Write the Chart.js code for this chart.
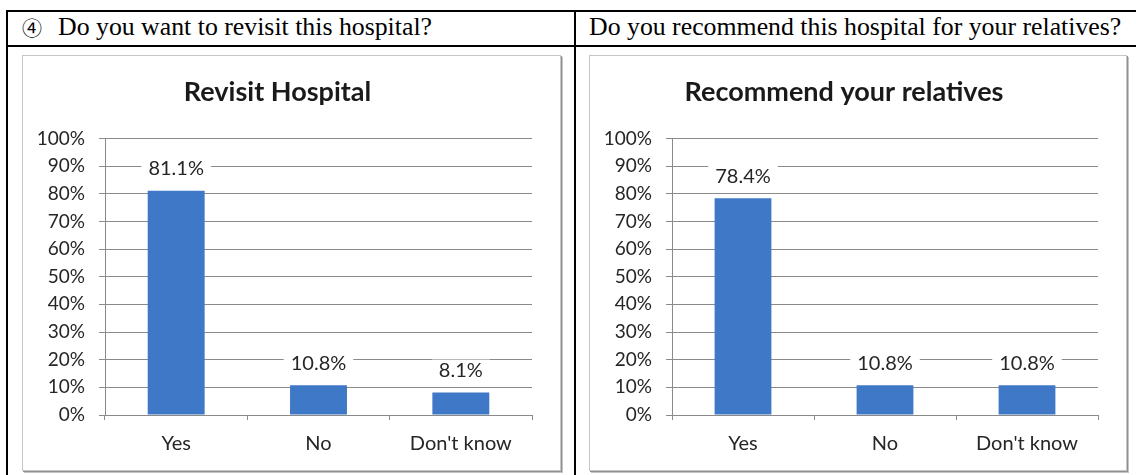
<!DOCTYPE html>
<html>
<head>
<meta charset="utf-8">
<script src="https://cdn.jsdelivr.net/npm/chart.js@4.4.0/dist/chart.umd.min.js"></script>
<style>
body { margin:0; width:1136px; height:475px; overflow:hidden; background:#fff; position:relative; font-family:"Liberation Serif", serif; }
.line { position:absolute; background:#000; }
.head { position:absolute; top:12px; font-size:25.8px; line-height:30px; color:#000; white-space:nowrap; }
.mark { position:absolute; top:13px; font-family:"Noto Sans CJK JP", sans-serif; font-size:20px; line-height:30px; color:#000; }
.box { position:absolute; top:55px; height:414px; border:1px solid #c6c6c6; box-shadow:1px 1px 0 #909090, 2px 2px 0 #c4c4c4; background:#fff; }
.box canvas { position:absolute; left:0; top:0; }
</style>
</head>
<body>
<div class="line" style="left:6px; top:10px; width:1130px; height:2px"></div>
<div class="line" style="left:6px; top:45px; width:1130px; height:2px"></div>
<div class="line" style="left:6px; top:10px; width:2px; height:465px"></div>
<div class="line" style="left:574px; top:10px; width:2px; height:465px"></div>
<div class="mark" style="left:22px">④</div>
<div class="head" style="left:58px">Do you want to revisit this hospital?</div>
<div class="head" style="left:589px">Do you recommend this hospital for your relatives?</div>
<div class="box" style="left:22px; width:537px"><canvas id="revisitChart" width="537" height="414"></canvas></div>
<div class="box" style="left:589px; width:536px"><canvas id="recommendChart" width="536" height="414"></canvas></div>

<script>
// answers shared by both questions
const categories = ['Yes', 'No', "Don't know"];
const revisitValues = [81.1, 10.8, 8.1];
const recommendValues = [78.4, 10.8, 10.8];
const percentMax = 100;
const percentStep = 10;

const barColor = '#3f78c6';
const lineColor = '#8a8a8a';
const textColor = '#262626';

// value labels above the bars, on a white patch so the gridline breaks behind them
const barLabels = {
    id: 'barLabels',
    afterDatasetsDraw(chart) {
        let ctx = chart.ctx;
        let meta = chart.getDatasetMeta(0);
        let values = chart.data.datasets[0].data;
        ctx.save();
        ctx.font = '20px Lato';
        ctx.textAlign = 'center';
        ctx.textBaseline = 'middle';
        meta.data.forEach((bar, i) => {
            let text = values[i].toFixed(1) + '%';
            let w = ctx.measureText(text).width + 14;
            let y = bar.y - 22;
            ctx.fillStyle = '#fff';
            ctx.fillRect(bar.x - w / 2, y - 11, w, 22);
            ctx.fillStyle = textColor;
            ctx.fillText(text, bar.x, y);
        });
        ctx.restore();
    }
};

function CreateChart(id, title, values) {
    let ctx = document.getElementById(id).getContext('2d');
    return new Chart(ctx, {
        type: 'bar',
        data: {
            labels: categories,
            datasets: [{
                data: values,
                backgroundColor: barColor,
                borderWidth: 0,
                categoryPercentage: 1,
                barPercentage: 0.4
            }]
        },
        plugins: [barLabels],
        options: {
            responsive: false,
            animation: false,
            layout: { padding: { left: 0, right: 28, top: 0, bottom: 0 } },
            plugins: {
                legend: { display: false },
                tooltip: { enabled: false },
                title: {
                    display: true,
                    text: title,
                    color: '#1a1a1a',
                    font: { family: 'Lato', size: 27, weight: 'bold' },
                    padding: { top: 20, bottom: 30 }
                }
            },
            scales: {
                x: {
                    grid: { offset: true, drawOnChartArea: false, tickLength: 5, color: lineColor },
                    border: { color: lineColor },
                    ticks: { color: textColor, font: { family: 'Lato', size: 20 }, padding: 12 },
                    afterFit: s => { s.height = 55; }
                },
                y: {
                    min: 0,
                    max: percentMax,
                    ticks: {
                        stepSize: percentStep,
                        callback: v => v + '%',
                        color: textColor,
                        font: { family: 'Lato', size: 19 },
                        padding: 14
                    },
                    grid: { color: lineColor, tickLength: 6 },
                    border: { color: lineColor },
                    afterFit: s => { s.width = 82; }
                }
            }
        }
    });
}

document.fonts.load('20px Lato').then(() => {
    CreateChart('revisitChart', 'Revisit Hospital', revisitValues);
    CreateChart('recommendChart', 'Recommend your relatives', recommendValues);
});
</script>
</body>
</html>
